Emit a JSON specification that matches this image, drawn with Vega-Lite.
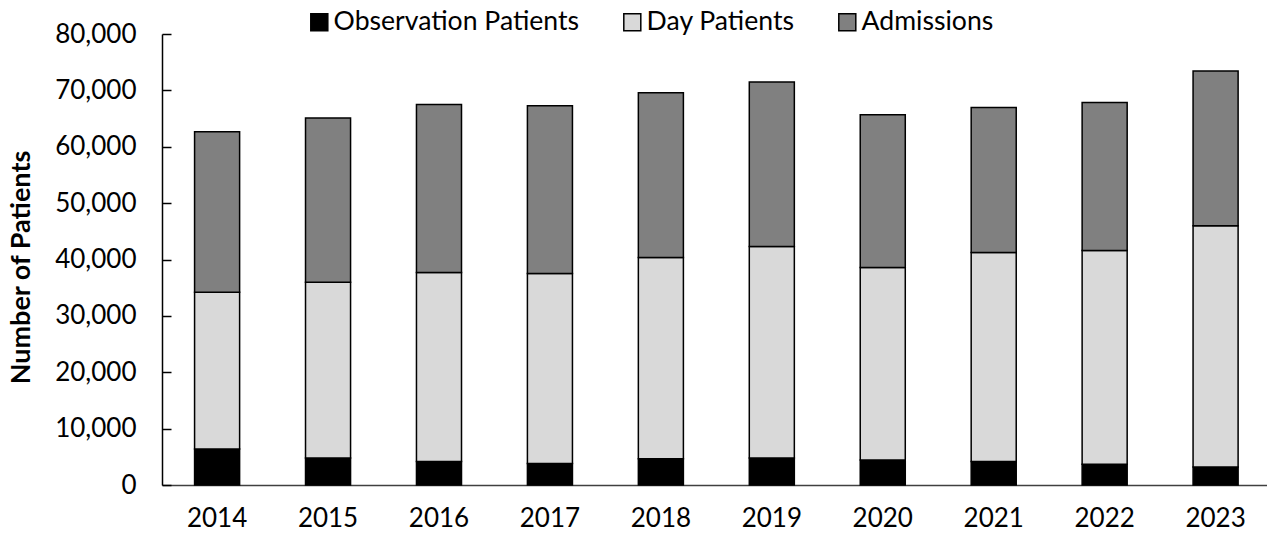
{
  "$schema": "https://vega.github.io/schema/vega-lite/v6.json",
  "autosize": "none",
  "width": 1105,
  "height": 451,
  "padding": {"left": 162, "top": 34, "right": 0, "bottom": 49},
  "background": "white",
  "config": {
    "font": "Lato",
    "view": {"stroke": null}
  },
  "data": {
    "values": [
      {"year": "2014", "series": "Observation Patients", "order": 1, "value": 6400},
      {"year": "2014", "series": "Day Patients", "order": 2, "value": 27800},
      {"year": "2014", "series": "Admissions", "order": 3, "value": 28450},
      {"year": "2015", "series": "Observation Patients", "order": 1, "value": 4800},
      {"year": "2015", "series": "Day Patients", "order": 2, "value": 31150},
      {"year": "2015", "series": "Admissions", "order": 3, "value": 29130},
      {"year": "2016", "series": "Observation Patients", "order": 1, "value": 4150},
      {"year": "2016", "series": "Day Patients", "order": 2, "value": 33550},
      {"year": "2016", "series": "Admissions", "order": 3, "value": 29790},
      {"year": "2017", "series": "Observation Patients", "order": 1, "value": 3800},
      {"year": "2017", "series": "Day Patients", "order": 2, "value": 33700},
      {"year": "2017", "series": "Admissions", "order": 3, "value": 29760},
      {"year": "2018", "series": "Observation Patients", "order": 1, "value": 4650},
      {"year": "2018", "series": "Day Patients", "order": 2, "value": 35700},
      {"year": "2018", "series": "Admissions", "order": 3, "value": 29210},
      {"year": "2019", "series": "Observation Patients", "order": 1, "value": 4800},
      {"year": "2019", "series": "Day Patients", "order": 2, "value": 37500},
      {"year": "2019", "series": "Admissions", "order": 3, "value": 29200},
      {"year": "2020", "series": "Observation Patients", "order": 1, "value": 4450},
      {"year": "2020", "series": "Day Patients", "order": 2, "value": 34130},
      {"year": "2020", "series": "Admissions", "order": 3, "value": 27080},
      {"year": "2021", "series": "Observation Patients", "order": 1, "value": 4150},
      {"year": "2021", "series": "Day Patients", "order": 2, "value": 37090},
      {"year": "2021", "series": "Admissions", "order": 3, "value": 25720},
      {"year": "2022", "series": "Observation Patients", "order": 1, "value": 3700},
      {"year": "2022", "series": "Day Patients", "order": 2, "value": 37890},
      {"year": "2022", "series": "Admissions", "order": 3, "value": 26250},
      {"year": "2023", "series": "Observation Patients", "order": 1, "value": 3200},
      {"year": "2023", "series": "Day Patients", "order": 2, "value": 42800},
      {"year": "2023", "series": "Admissions", "order": 3, "value": 27450}
    ]
  },
  "mark": {"type": "bar", "stroke": "#000000", "strokeWidth": 1.5},
  "encoding": {
    "x": {
      "field": "year",
      "type": "ordinal",
      "scale": {"paddingInner": 0.594, "paddingOuter": 0.277, "align": 0.53},
      "axis": {
        "title": null,
        "labelAngle": 0,
        "labelFontSize": 26,
        "labelColor": "#000000",
        "labelPadding": 20,
        "ticks": false,
        "domainColor": "#404040",
        "domainWidth": 1.5
      }
    },
    "y": {
      "field": "value",
      "type": "quantitative",
      "stack": "zero",
      "scale": {"domain": [0, 80000], "nice": false},
      "axis": {
        "title": "Number of Patients",
        "titleFontSize": 27,
        "titleFontWeight": "bold",
        "titleColor": "#000000",
        "titlePadding": 19,
        "titleY": 233,
        "values": [0, 10000, 20000, 30000, 40000, 50000, 60000, 70000, 80000],
        "format": ",.0f",
        "labelFontSize": 26,
        "labelColor": "#000000",
        "labelPadding": 35,
        "tickSize": -9,
        "tickColor": "#000000",
        "tickWidth": 1.5,
        "domainColor": "#000000",
        "domainWidth": 1.5,
        "grid": false
      }
    },
    "color": {
      "field": "series",
      "type": "nominal",
      "scale": {
        "domain": ["Observation Patients", "Day Patients", "Admissions"],
        "range": ["#000000", "#d9d9d9", "#808080"]
      },
      "legend": {
        "title": null,
        "orient": "none",
        "direction": "horizontal",
        "legendX": 144,
        "legendY": -25,
        "symbolType": "square",
        "symbolSize": 289,
        "symbolStrokeColor": "#000000",
        "symbolStrokeWidth": 1.5,
        "labelFontSize": 26.6,
        "labelColor": "#000000",
        "labelOffset": 1,
        "columnPadding": 39,
        "labelLimit": 400
      }
    },
    "order": {"field": "order", "type": "quantitative"}
  }
}
